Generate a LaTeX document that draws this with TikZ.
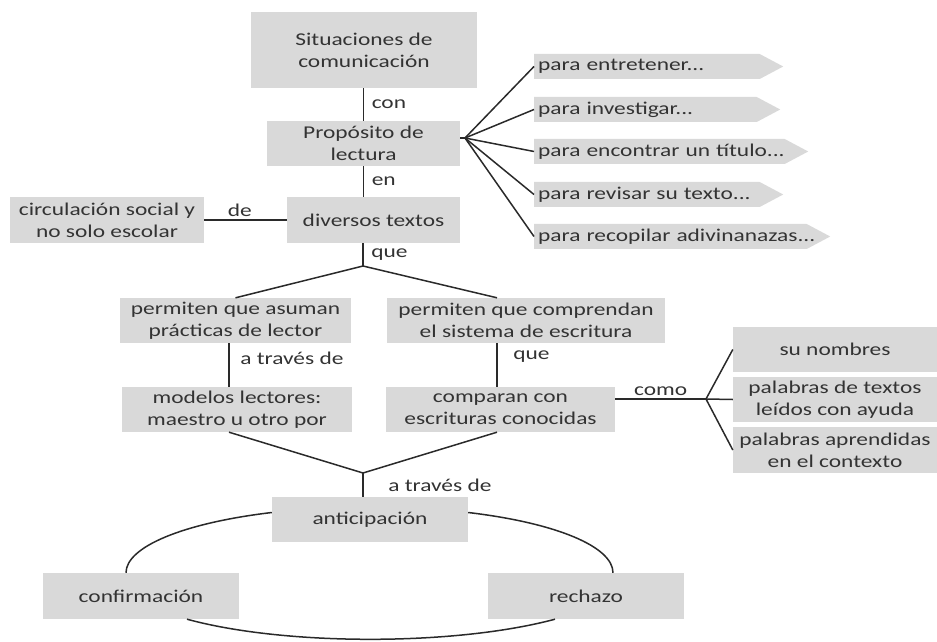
\documentclass[tikz,border=0pt]{standalone}
\usepackage{fontspec}
\setmainfont{Carlito}[FakeStretch=1.3]
\usepackage{tikz}
\usetikzlibrary{shapes.symbols}

\definecolor{boxgray}{HTML}{D9D9D9}
\definecolor{textgray}{HTML}{333333}
\definecolor{linegray}{HTML}{2A2A2A}

\begin{document}
\begin{tikzpicture}[
  x=1pt, y=1pt,
  box/.style={rectangle, fill=boxgray, text=textgray, align=center,
              inner sep=0pt, font=\fontsize{18}{22}\selectfont},
  sig/.style={signal, signal to=east, signal pointer angle=56,
              fill=boxgray, text=textgray, align=left, anchor=west,
              inner xsep=4pt, inner ysep=0pt, minimum height=25pt,
              font=\fontsize{18}{22}\selectfont},
  lbl/.style={text=textgray, inner sep=1.5pt, font=\fontsize{18}{22}\selectfont},
  link/.style={draw=linegray, line width=1.5pt},
]
  \useasboundingbox (0,0) rectangle (937,641);

  % boxes
  \node[box, minimum width=226pt, minimum height=76pt] (sit)    at (364,591)   {Situaciones de\\comunicación};
  \node[box, minimum width=193pt, minimum height=45pt] (prop)   at (363.5,497.5) {Propósito de\\lectura};
  \node[box, minimum width=173pt, minimum height=46pt] (div)    at (373.5,421) {diversos textos};
  \node[box, minimum width=194pt, minimum height=46pt] (circ)   at (107,421)   {circulación social y\\no solo escolar};
  \node[box, minimum width=231pt, minimum height=45pt] (asum)   at (235.5,320.5) {permiten que asuman\\prácticas de lector};
  \node[box, minimum width=278pt, minimum height=45pt] (compr)  at (526,320.5) {permiten que comprendan\\el sistema de escritura};
  \node[box, minimum width=230pt, minimum height=45pt] (model)  at (237,231.5) {modelos lectores:\\maestro u otro por};
  \node[box, minimum width=229pt, minimum height=45pt] (compar) at (500.5,231.5) {comparan con\\escrituras conocidas};
  \node[box, minimum width=204pt, minimum height=45pt] (nomb)   at (835,291.5) {su nombres};
  \node[box, minimum width=204pt, minimum height=45pt] (leid)   at (835,241.5) {palabras de textos\\leídos con ayuda};
  \node[box, minimum width=204pt, minimum height=46pt] (apren)  at (835,191)   {palabras aprendidas\\en el contexto};
  \node[box, minimum width=196pt, minimum height=45pt] (antic)  at (370,121.5) {anticipación};
  \node[box, minimum width=196pt, minimum height=46pt] (conf)   at (141,45)    {confirmación};
  \node[box, minimum width=196pt, minimum height=46pt] (rech)   at (586,45)    {rechazo};

  % purposes
  \node[sig, text width=217.5pt] (entr) at (534,574.5) {\mbox{para entretener...}};
  \node[sig, text width=214.5pt] (inve) at (534,531.5) {\mbox{para investigar...}};
  \node[sig, text width=242.5pt] (enco) at (534,489.5) {\mbox{para encontrar un título...}};
  \node[sig, text width=217.5pt] (revi) at (534,446.5) {\mbox{para revisar su texto...}};
  \node[sig, text width=264.5pt] (reco) at (534,404.5) {\mbox{para recopilar adivinanazas...}};

  \coordinate (fan)   at (465,503);
  \coordinate (split) at (363,375);
  \coordinate (join)  at (363,168);
  \coordinate (como)  at (706,242);
  \coordinate (lcol)  at (229,0);
  \coordinate (rcol)  at (497,0);

  \draw[link] (prop.north |- sit.south) -- node[lbl, right=6pt] {con} (prop.north);
  \draw[link] (prop.south) -- node[lbl, right=6pt] {en} (prop.south |- div.north);
  \draw[link] (circ.east) -- node[lbl, above=1pt, pos=0.43] {de} (div.west);

  \draw[link] (prop.east |- fan) -- (fan);
  \foreach \p in {entr, inve, enco, revi, reco}
    \draw[link] (fan) -- (\p.west);

  \draw[link] (split |- div.south) -- node[lbl, right=6pt] {que} (split);
  \draw[link] (split) -- (asum.north);
  \draw[link] (split) -- (rcol |- compr.north);

  \draw[link] (lcol |- asum.south) -- node[lbl, right=9pt, pos=0.35] {a través de} (lcol |- model.north);
  \draw[link] (rcol |- compr.south) -- node[lbl, right=14pt, pos=0.3] {que} (rcol |- compar.north);

  \draw[link] (compar.east |- como) -- node[lbl, above=1pt] {como} (como);
  \draw[link] (como) -- (nomb.west);
  \draw[link] (como) -- (leid.west);
  \draw[link] (como) -- (apren.west);

  \draw[link] (lcol |- model.south) -- (join);
  \draw[link] (rcol |- compar.south) -- (join);
  \draw[link] (join) -- node[lbl, right=23pt] {a través de} (join |- antic.north);

  % cycle
  \draw[link] ([yshift=7pt]antic.west) .. controls (183.3,118) and (126,94.2) .. ([xshift=-15pt]conf.north);
  \draw[link] ([yshift=7pt]antic.east) .. controls (556.7,118) and (613,94.2) .. ([xshift=27pt]rech.north);
  \draw[link] ([xshift=46pt]conf.south) .. controls (285,-5) and (455,-5) .. ([xshift=-31pt]rech.south);
\end{tikzpicture}
\end{document}
